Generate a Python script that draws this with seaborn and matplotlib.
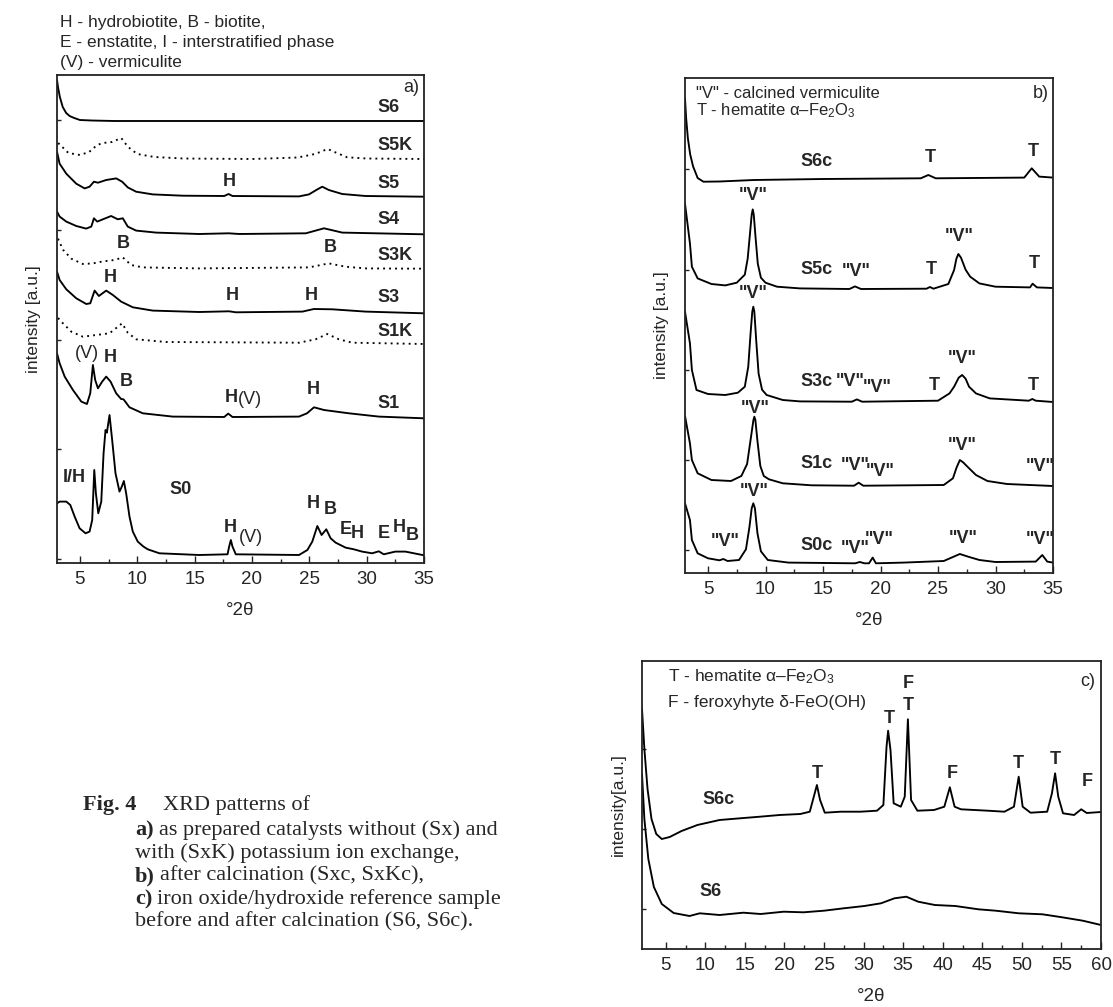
import numpy as np
import pandas as pd
import matplotlib
matplotlib.use("Agg")
import matplotlib.pyplot as plt
import seaborn as sns

# ---------------- panel a data (intensity relative to each trace's own baseline) -------------
a_s6_x = [3.0, 3.1, 3.25, 3.5, 3.8, 4.1, 4.5, 5.0, 6.0, 8.0, 20.0, 35.0]
a_s6_y = [41, 33, 24, 14, 8, 5, 3, 1, 0.5, 0, 0, 0]
a_s5k_x = [3.1, 4.0, 5.0, 5.8, 6.5, 7.0, 7.8, 8.6, 9.2, 10.0, 11.5, 14, 20, 24, 25.5, 26.6, 27.3, 28.3, 30, 35]
a_s5k_y = [16, 6, 4, 7, 14, 16, 17, 21, 12, 5, 2, 0.5, 0, 1.5, 5, 10, 6.5, 1.7, 0.5, 0]
a_s5_x = [3.0, 3.23, 3.81, 4.68, 5.41, 5.84, 6.22, 6.57, 7.29, 8.16, 8.68, 9.17, 9.9, 11.35, 13.96,
          17.58, 17.96, 18.3, 24.1, 24.97, 25.7, 26.13, 26.7, 27.87, 29.9, 35]
a_s5_y = [45, 33, 23, 13, 8.3, 10, 15, 14, 16.7, 18.3, 15, 9.3, 5, 2.3, 1,
          0.7, 2.7, 0.7, 0.3, 2.3, 7.3, 10, 6.7, 2.7, 0.7, 0]
a_s4_x = [3.0, 3.23, 3.81, 4.68, 5.55, 5.99, 6.22, 6.51, 7.0, 7.72, 8.3, 8.74, 9.17, 9.9, 11.64,
          15.4, 17.96, 18.9, 24.7, 26.28, 27.87, 35]
a_s4_y = [22.7, 17.7, 12.7, 8.3, 5.7, 7.7, 16, 12.7, 15, 18.3, 15, 16, 7.7, 3.7, 1.7,
          0.3, 1, 0.3, 1, 6, 1.7, 0]
a_s3k_x = [3.09, 3.52, 4.25, 5.26, 6.13, 7.0, 8.01, 8.74, 9.46, 10.48, 15.4, 24.97, 26.7, 28.16, 29.9, 35]
a_s3k_y = [30, 19, 10, 4.7, 5.3, 7.3, 8.7, 11.3, 3.7, 1.3, 0.3, 1.3, 5.3, 2, 0.3, 0]
a_s3_x = [3.0, 3.23, 3.81, 4.68, 5.55, 5.9, 6.28, 6.65, 7.29, 7.87, 8.59, 9.61, 11.35, 15.4, 18.0,
          18.6, 24.4, 25.4, 27.0, 29.9, 35]
a_s3_y = [41.7, 33.3, 24, 15, 9.3, 10, 22.7, 17.3, 22.7, 18.3, 11.7, 6, 2.7, 1.3, 2,
          1, 1.7, 4.3, 4, 1.7, 0]
a_s1k_x = [3.09, 3.52, 4.25, 5.26, 6.42, 7.58, 8.68, 9.17, 9.9, 12.5, 24.1, 25.55, 26.57, 27.58, 28.74, 35]
a_s1k_y = [26, 20.7, 12.3, 7.3, 9, 10.7, 20.7, 11.3, 4.7, 2, 1.3, 4.7, 10, 4.7, 1.3, 0]
a_s1_x = [3.0, 3.23, 3.67, 4.39, 5.12, 5.61, 5.9, 6.13, 6.33, 6.57, 6.94, 7.29, 7.67, 8.16, 8.59,
          8.8, 9.32, 10.48, 13.09, 17.58, 17.93, 18.3, 24.1, 24.8, 25.41, 26.28, 28.45, 31.06, 35]
a_s1_y = [65, 55, 41.7, 28.3, 16.7, 14.3, 25, 53.3, 38.3, 30, 36.7, 41.7, 36.7, 25, 19.3,
          19, 11, 5, 1.7, 1.3, 4.7, 1.3, 1.7, 5, 11, 8.3, 5, 1.7, 0]
a_s0_x = [3.0, 3.23, 3.81, 4.16, 4.54, 4.97, 5.49, 5.84, 6.07, 6.25, 6.39, 6.6, 6.86, 7.06, 7.23,
          7.35, 7.58, 7.81, 8.1, 8.45, 8.65, 8.83, 9.03, 9.32, 9.61, 10.04, 10.54, 10.91, 11.93, 15.4,
          17.87, 18.01, 18.16, 18.3, 18.59, 24.1, 24.83, 25.26, 25.7, 26.07, 26.48, 26.86, 27.29,
          28.16, 28.88, 29.6, 30.48, 31.06, 31.49, 32.5, 33.38, 35]
a_s0_y = [52, 53.7, 53.7, 50.3, 38.7, 27, 22, 23.7, 35.3, 85.3, 62, 42, 53.7, 102, 125.3,
          122.7, 140.3, 115.3, 82, 63.7, 68.7, 74.3, 62, 38.7, 23.7, 13.7, 8.7, 6, 2, 0.3,
          1, 8.7, 15.3, 8.7, 1, 0.3, 5.3, 13.7, 29.3, 20.3, 26, 17, 12.7,
          7.7, 6, 3.7, 2, 4, 1, 3.7, 3.7, 0]
a_names = ["S6", "S5K", "S5", "S4", "S3K", "S3", "S1K", "S1", "S0"]
a_dotted = ["S5K", "S3K", "S1K"]

# ---------------- panel b data ----------------
b_s6c_x = [3.0, 3.1, 3.25, 3.45, 3.7, 4.1, 4.6, 6.0, 9.0, 15.0, 23.5, 24.16, 24.8, 32.5, 33.15, 33.8, 35]
b_s6c_y = [80, 60, 40, 24, 12, 0.3, -3.4, -3.2, -1.7, -0.7, 0, 3.3, 0, 0.7, 10, 1.7, 0.7]
b_s5c_x = [3.0, 3.43, 3.6, 4.1, 5.3, 6.5, 7.5, 8.2, 8.45, 8.65, 8.8, 8.89, 8.98, 9.13, 9.33, 9.6, 10.0,
           11, 13, 17.3, 17.78, 18.3, 24.0, 24.3, 24.6, 25.9, 26.4, 26.6, 26.77, 27.0, 27.4, 27.8,
           28.6, 30, 33.0, 33.23, 33.6, 35]
b_s5c_y = [85, 45.3, 22, 10.3, 4.7, 3.3, 6, 14, 30, 55, 74, 79.3, 74, 52, 25, 11, 6,
           2, 0.3, -0.3, 2.3, -0.3, 0, 1.7, 0, 4.7, 18.7, 30, 34.7, 31, 19, 12,
           5.3, 2, 1.3, 5, 1.3, 0.7]
b_s3c_x = [3.0, 3.43, 3.6, 4.0, 5.0, 6.5, 7.6, 8.2, 8.5, 8.7, 8.85, 8.94, 9.03, 9.2, 9.4, 9.7, 10.1,
           11.5, 13, 17.5, 17.95, 18.4, 25, 26.0, 26.4, 26.8, 27.1, 27.4, 27.7, 28.3, 29.5, 32.9,
           33.2, 33.5, 35]
b_s3c_y = [90, 58.4, 31.7, 11.7, 7.7, 6.7, 9, 15, 35, 68, 90, 95, 90, 60, 28, 12, 6.7,
           1.7, 0.3, 0, 2.3, 0, 1, 8.3, 15, 24, 26.7, 23, 15, 8.3, 3.3, 1,
           2.7, 1, -0.3]
b_s1c_x = [3.0, 3.43, 3.6, 4.1, 5.3, 7.0, 7.9, 8.4, 8.75, 8.95, 9.03, 9.12, 9.3, 9.55, 9.85, 10.3,
           11.5, 14, 17.7, 18.1, 18.5, 25.5, 26.3, 26.6, 26.9, 27.2, 27.5, 28.3, 29.3, 31, 35]
b_s1c_y = [70, 42.7, 26, 12.7, 6, 5, 10, 22, 50, 66, 69.3, 66, 45, 20, 10, 6.7,
           2.7, 0.7, 0.3, 3.3, 0.3, 1, 7.7, 18, 26, 23.5, 20, 11, 5, 2, 0]
b_s0c_x = [3.0, 3.43, 3.6, 4.1, 5.0, 6.0, 6.33, 6.7, 7.7, 8.3, 8.6, 8.8, 8.94, 9.08, 9.3, 9.6, 10.2,
           12, 17.8, 18.2, 18.6, 19.0, 19.32, 19.6, 22, 25.5, 26.5, 26.9, 27.6, 28.6, 30, 33.5,
           34.07, 34.5, 35]
b_s0c_y = [60, 43.3, 23.3, 10, 5, 3, 4.3, 2.3, 3.3, 14, 36, 55, 60, 55, 30, 12, 3.3,
           0.7, 0, 1.3, 0, 0, 5.7, 0, 0.7, 2.3, 7.3, 9.3, 6.7, 3.3, 1.3, 1.7,
           8.3, 1.7, 0.7]
b_names = ["S6c", "S5c", "S3c", "S1c", "S0c"]

# ---------------- panel c data ----------------
c_s6c_x = [2.0, 2.3, 2.7, 3.2, 3.8, 4.5, 5.5, 7.0, 9.0, 11.8, 14.4, 16.9, 19.4, 22.0, 23.2, 23.7,
           24.1, 24.5, 25.1, 27.1, 29.6, 31.7, 32.5, 32.9, 33.1, 33.4, 33.8, 34.7, 35.2, 35.6, 36.0,
           36.8, 38.9, 40.2, 40.9, 41.5, 42.3, 45.7, 47.8, 49.0, 49.6, 50.1, 51.1, 53.2, 53.8, 54.2,
           54.6, 55.2, 56.6, 57.5, 58.2, 60]
c_s6c_y = [240, 200, 160, 130, 115, 110, 112, 118, 124, 129, 130.7, 132.3, 134, 135, 137.3, 152,
           164, 149, 136.3, 137.3, 137.3, 138.3, 144, 202.3, 218.3, 199, 145.7, 142.3, 152.3, 229.7, 149,
           138.3, 139, 142.3, 161.7, 142.3, 139.7, 138.3, 137.3, 142.3, 172.3, 142.3, 136.3, 137.3, 155.7, 175.7,
           152.3, 135.7, 134, 139.7, 136, 137]
c_s6_x = [2.0, 2.3, 2.8, 3.5, 4.5, 6.0, 8.0, 9.3, 11.8, 14.8, 17.0, 19.9, 22.4, 25.0, 27.5, 30.1, 32.2,
          33.9, 35.4, 36.9, 39.0, 41.6, 44.5, 46.7, 49.6, 52.6, 55.1, 57.7, 60]
c_s6_y = [175, 130, 90, 62, 45, 36, 33, 35.7, 34, 36.3, 35, 37.3, 36.7, 38.3, 40.7, 43, 45.7,
          50.7, 52.3, 47.3, 44, 43, 39.7, 38.3, 35.7, 34.7, 31.7, 28.3, 24]

# ---------------- layout (pixels of the 1113x1007 canvas) ----------------
W, H = 1113, 1007
a_box = (57, 75, 424, 563)
b_box = (685, 78, 1053, 573)
c_box = (642, 661, 1101, 949)
a_offsets = [442, 404, 366.3, 328.7, 294.3, 249.7, 219, 144.7, 7.7]
b_offsets = [394.7, 284.3, 171.3, 87, 9.7]

sns.set_theme(style="ticks")
plt.rcParams["font.family"] = ["Liberation Sans", "DejaVu Sans"]
plt.rcParams["mathtext.fontset"] = "custom"
plt.rcParams["mathtext.rm"] = "Liberation Sans"
plt.rcParams["mathtext.it"] = "Liberation Sans:italic"
plt.rcParams["mathtext.bf"] = "Liberation Sans:bold"

fig = plt.figure(figsize=(W / 100, H / 100), dpi=100)


def make_ax(box):
    l, t, r, b = box
    return fig.add_axes([l / W, 1 - b / H, (r - l) / W, (b - t) / H])


def style_ax(ax, xlim, ylim, major, minor, yt, ylabel):
    ax.set_xlim(*xlim)
    ax.set_ylim(*ylim)
    ax.set_xticks(major)
    ax.set_xticks(minor, minor=True)
    ax.set_yticks(yt)
    ax.set_yticklabels([])
    ax.tick_params(axis="both", which="both", direction="in", color="#222222", width=1.0)
    ax.tick_params(axis="x", which="major", length=5, labelsize=13.5, pad=6)
    ax.tick_params(axis="x", which="minor", length=3)
    ax.tick_params(axis="y", length=3)
    for s in ax.spines.values():
        s.set_visible(True)
        s.set_linewidth(1.3)
        s.set_color("#222222")
    ax.set_xlabel("°2θ", fontsize=13.5, labelpad=10)
    ax.set_ylabel(ylabel, fontsize=12.5, labelpad=8)


def trace(ax, xs, ys, off, dotted=False):
    df = pd.DataFrame({"x": xs, "y": np.asarray(ys, float) + off})
    sns.lineplot(data=df, x="x", y="y", ax=ax, color="black", lw=1.35, sort=False,
                 estimator=None, linestyle=(0, (1.0, 2.2)) if dotted else "-")


LBL = dict(fontsize=13, fontweight="bold", ha="center", va="center")

# ---------------- panel a ----------------
axa = make_ax(a_box)
a_series = [(a_s6_x, a_s6_y), (a_s5k_x, a_s5k_y), (a_s5_x, a_s5_y), (a_s4_x, a_s4_y),
            (a_s3k_x, a_s3k_y), (a_s3_x, a_s3_y), (a_s1k_x, a_s1k_y), (a_s1_x, a_s1_y),
            (a_s0_x, a_s0_y)]
for name, (xs, ys), off in zip(a_names, a_series, a_offsets):
    trace(axa, xs, ys, off, dotted=name in a_dotted)
style_ax(axa, (3, 35), (0, 488), range(5, 36, 5), np.arange(7.5, 35, 5),
         [4, 114, 223, 333, 443], "intensity [a.u.]")
a_label_y = [456, 417, 380, 343, 307, 265, 231, 160]
for name, y in zip(a_names[:-1], a_label_y):
    axa.text(30.9, y, name, fontsize=13, fontweight="bold", ha="left", va="center")
axa.text(12.8, 73, "S0", fontsize=13, fontweight="bold", ha="left", va="center")
axa.text(34.6, 475, "a)", fontsize=13, ha="right", va="center")
a_peaks = [("H", 18.0, 381), ("B", 8.8, 319), ("B", 26.8, 316), ("H", 7.6, 286), ("H", 18.3, 268),
           ("H", 25.2, 268), ("H", 7.6, 205), ("B", 9.0, 181), ("H", 18.2, 166), ("H", 25.3, 173),
           ("I/H", 4.54, 86), ("H", 18.1, 35), ("H", 25.3, 60), ("B", 26.85, 54), ("E", 28.2, 33),
           ("H", 29.2, 30), ("E", 31.5, 30), ("H", 32.8, 36), ("B", 33.95, 28)]
for s, x, y in a_peaks:
    axa.text(x, y, s, **LBL)
for s, x, y in [("(V)", 5.6, 210), ("(V)", 19.8, 163), ("(V)", 19.9, 25)]:
    axa.text(x, y, s, fontsize=13, ha="center", va="center")

for i, line in enumerate(["H - hydrobiotite, B - biotite,",
                          "E - enstatite, I - interstratified phase",
                          "(V) - vermiculite"]):
    fig.text(60 / W, 1 - (23 + 19.5 * i) / H, line, fontsize=12.5, ha="left", va="center")

# ---------------- panel b ----------------
axb = make_ax(b_box)
b_series = [(b_s6c_x, b_s6c_y), (b_s5c_x, b_s5c_y), (b_s3c_x, b_s3c_y), (b_s1c_x, b_s1c_y),
            (b_s0c_x, b_s0c_y)]
for name, (xs, ys), off in zip(b_names, b_series, b_offsets):
    trace(axb, xs, ys, off)
style_ax(axb, (3, 35), (0, 495), range(5, 36, 5), np.arange(7.5, 35, 5),
         [23, 113, 203, 303, 404], "intensity [a.u.]")
for name, y in zip(b_names, [411.3, 303, 191.3, 109.7, 28]):
    axb.text(14.4, y, name, **LBL)
b_peaks = [("T", 24.3, 416), ("T", 33.3, 421.3), ('"V"', 8.9, 378), ('"V"', 17.9, 301.3),
           ("T", 24.45, 303), ('"V"', 26.85, 336.3), ("T", 33.4, 309.7), ('"V"', 8.95, 279.7),
           ('"V"', 17.4, 191.3), ('"V"', 19.7, 186), ("T", 24.7, 187), ('"V"', 27.15, 214.7),
           ("T", 33.3, 187), ('"V"', 9.1, 164.7), ('"V"', 17.8, 108), ('"V"', 20.0, 101),
           ('"V"', 27.15, 128), ('"V"', 33.87, 106.3), ('"V"', 9.0, 81.3), ('"V"', 6.48, 31.3),
           ('"V"', 17.8, 24.5), ('"V"', 19.9, 34), ('"V"', 27.2, 34.7), ('"V"', 33.87, 33)]
for s, x, y in b_peaks:
    axb.text(x, y, s, **LBL)
axb.text(4.0, 480, '"V" - calcined vermiculite', fontsize=12, ha="left", va="center")
axb.text(4.0, 462, "T - hematite α–Fe$_2$O$_3$", fontsize=12, ha="left", va="center")
axb.text(34.6, 480, "b)", fontsize=13, ha="right", va="center")

# ---------------- panel c ----------------
axc = make_ax(c_box)
trace(axc, c_s6c_x, c_s6c_y, 0)
trace(axc, c_s6_x, c_s6_y, 0)
style_ax(axc, (2, 60), (0, 288), range(5, 61, 5), np.arange(7.5, 60, 5),
         [40, 120, 200], "intensity[a.u.]")
axc.text(9.7, 150, "S6c", fontsize=13, fontweight="bold", ha="left", va="center")
axc.text(9.3, 57, "S6", fontsize=13, fontweight="bold", ha="left", va="center")
c_peaks = [("T", 24.1, 175.7), ("T", 33.2, 230.7), ("T", 35.6, 244), ("F", 35.7, 265.7),
           ("F", 41.2, 175.7), ("T", 49.6, 185.7), ("T", 54.2, 189), ("F", 58.3, 167.3)]
for s, x, y in c_peaks:
    axc.text(x, y, s, **LBL)
axc.text(5.3, 272, "T - hematite α–Fe$_2$O$_3$", fontsize=12.5, ha="left", va="center")
axc.text(5.3, 246, "F - feroxyhyte δ-FeO(OH)", fontsize=12.5, ha="left", va="center")
axc.text(59.3, 267, "c)", fontsize=13, ha="right", va="center")

# ---------------- caption ----------------
SER = ["Liberation Serif", "DejaVu Serif"]
renderer = fig.canvas.get_renderer()


def cap_line(x_px, y_px, bold, rest, size=16):
    x = x_px / W
    y = 1 - y_px / H
    if bold:
        t = fig.text(x, y, bold, family=SER, fontweight="bold", fontsize=size, ha="left", va="center")
        bb = t.get_window_extent(renderer=renderer)
        x = (bb.x1 + 5) / W
    fig.text(x, y, rest, family=SER, fontsize=size, ha="left", va="center")


fig.text(83 / W, 1 - 805 / H, "Fig. 4", family=SER, fontweight="bold", fontsize=16,
         ha="left", va="center")
fig.text(163 / W, 1 - 805 / H, "XRD patterns of", family=SER, fontsize=16, ha="left", va="center")
cap_line(135, 830, "a)", "as prepared catalysts without (Sx) and")
cap_line(135, 853, "", "with (SxK) potassium ion exchange,")
cap_line(135, 876, "b)", "after calcination (Sxc, SxKc),")
cap_line(135, 899, "c)", "iron oxide/hydroxide reference sample")
cap_line(135, 922, "", "before and after calcination (S6, S6c).")

fig.savefig("out.png", dpi=100)
